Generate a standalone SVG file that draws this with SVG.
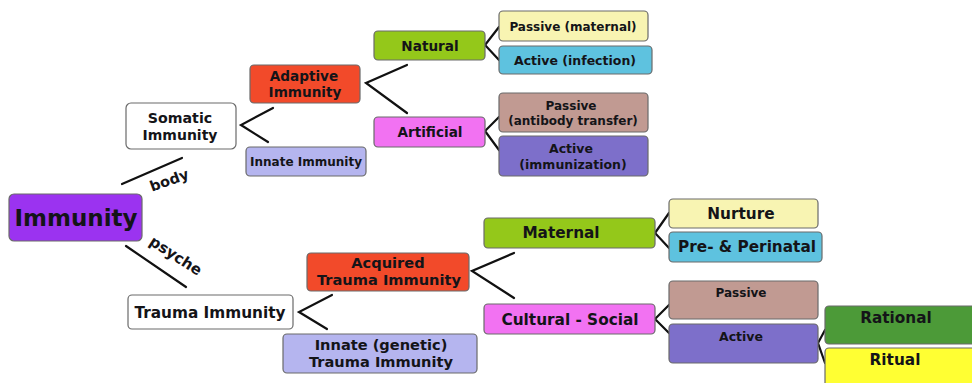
<svg xmlns="http://www.w3.org/2000/svg" width="972" height="383" viewBox="0 0 972 383">
<style>
  .b{stroke:#6a6a6a;stroke-width:1.2}
  text{font-family:"DejaVu Sans","Liberation Sans",Arial,sans-serif;font-weight:bold;fill:#141418;text-anchor:middle}
  .c{fill:none;stroke:#111;stroke-width:2.2;stroke-linecap:round;stroke-linejoin:miter}
  .s12{font-size:12px}.s125{font-size:12.5px}.s135{font-size:13.6px}.s15{font-size:15.3px}.s145{font-size:14.6px}
</style>
<rect width="972" height="383" fill="#ffffff"/>
<g id="connectors">
  <line class="c" x1="122" y1="184" x2="182" y2="158"/>
  <line class="c" x1="126" y1="246" x2="186" y2="287"/>
  <polyline class="c" points="273,108 241,125 268,142"/>
  <polyline class="c" points="407,65 366,83 407,113"/>
  <polyline class="c" points="499,27 485,45 499,60"/>
  <polyline class="c" points="499,117 485,131 499,150"/>
  <polyline class="c" points="332,295 299,312 327,329"/>
  <polyline class="c" points="514,253 472,271 514,298"/>
  <polyline class="c" points="669,213 655,233 669,248"/>
  <polyline class="c" points="669,305 655,319 669,333"/>
  <polyline class="c" points="825,330 818,343 825,363"/>
  <text style="font-size:14.5px" transform="translate(171,185) rotate(-20)">body</text>
  <text style="font-size:15px" transform="translate(173,260) rotate(33)">psyche</text>
</g>
<g id="immunity"><rect class="b" x="9" y="194" width="133" height="47" rx="5" fill="#9b33f0"/><text x="76" y="226" style="font-size:23px">Immunity</text></g>
<g id="somatic"><rect class="b" x="126" y="103" width="110" height="46" rx="5" fill="#ffffff"/><text style="font-size:14.2px" x="180" y="123">Somatic</text><text style="font-size:14px" x="180" y="139.5">Immunity</text></g>
<g id="adaptive"><rect class="b" x="250" y="65" width="110" height="38" rx="4" fill="#f24a2a"/><text class="s135" x="304" y="80.5">Adaptive</text><text class="s135" x="305" y="96.5">Immunity</text></g>
<g id="innate"><rect class="b" x="246" y="147" width="120" height="29" rx="4" fill="#b5b5ef"/><text class="s12" x="306" y="166">Innate Immunity</text></g>
<g id="natural"><rect class="b" x="374" y="31" width="111" height="29" rx="4" fill="#94c81a"/><text class="s135" x="430" y="51">Natural</text></g>
<g id="artificial"><rect class="b" x="374" y="117" width="111" height="30" rx="4" fill="#f272f2"/><text class="s135" x="430" y="137">Artificial</text></g>
<g id="passive-maternal"><rect class="b" x="499" y="11" width="149" height="30" rx="4" fill="#f8f4b2"/><text class="s12" x="573" y="31">Passive (maternal)</text></g>
<g id="active-infection"><rect class="b" x="499" y="46" width="153" height="28" rx="4" fill="#5ec2df"/><text class="s125" x="575" y="65">Active (infection)</text></g>
<g id="passive-antibody"><rect class="b" x="499" y="93" width="149" height="39" rx="4" fill="#c19a92"/><text class="s12" x="571" y="110">Passive</text><text class="s12" x="573" y="125">(antibody transfer)</text></g>
<g id="active-immunization"><rect class="b" x="499" y="136" width="149" height="40" rx="4" fill="#7d6fca"/><text class="s125" x="571" y="153">Active</text><text class="s125" x="573" y="169">(immunization)</text></g>
<g id="trauma"><rect class="b" x="128" y="295" width="165" height="34" rx="4" fill="#ffffff"/><text class="s15" x="210" y="318">Trauma Immunity</text></g>
<g id="acquired-trauma"><rect class="b" x="307" y="253" width="162" height="38" rx="4" fill="#f24a2a"/><text class="s145" x="388" y="268">Acquired</text><text class="s145" x="389" y="285">Trauma Immunity</text></g>
<g id="innate-trauma"><rect class="b" x="283" y="334" width="194" height="39" rx="4" fill="#b5b5ef"/><text class="s145" x="381" y="350">Innate (genetic)</text><text class="s145" x="381" y="367">Trauma Immunity</text></g>
<g id="maternal"><rect class="b" x="484" y="218" width="171" height="30" rx="4" fill="#94c81a"/><text class="s15" x="561" y="238">Maternal</text></g>
<g id="cultural"><rect class="b" x="484" y="304" width="171" height="30" rx="4" fill="#f272f2"/><text class="s15" x="570" y="325">Cultural - Social</text></g>
<g id="nurture"><rect class="b" x="669" y="199" width="149" height="29" rx="4" fill="#f8f4b2"/><text class="s15" x="741" y="219">Nurture</text></g>
<g id="perinatal"><rect class="b" x="669" y="232" width="153" height="30" rx="4" fill="#5ec2df"/><text class="s15" x="747" y="252">Pre- &amp; Perinatal</text></g>
<g id="passive"><rect class="b" x="669" y="281" width="149" height="38" rx="4" fill="#c19a92"/><text class="s12" x="741" y="297">Passive</text></g>
<g id="active"><rect class="b" x="669" y="324" width="149" height="39" rx="4" fill="#7d6fca"/><text class="s125" x="741" y="341">Active</text></g>
<g id="rational"><rect class="b" x="825" y="306" width="152" height="38" rx="4" fill="#4c9a38"/><text class="s15" x="896" y="323">Rational</text></g>
<g id="ritual"><rect class="b" x="825" y="348" width="152" height="40" rx="4" fill="#ffff33"/><text class="s15" x="895" y="365">Ritual</text></g>
</svg>
